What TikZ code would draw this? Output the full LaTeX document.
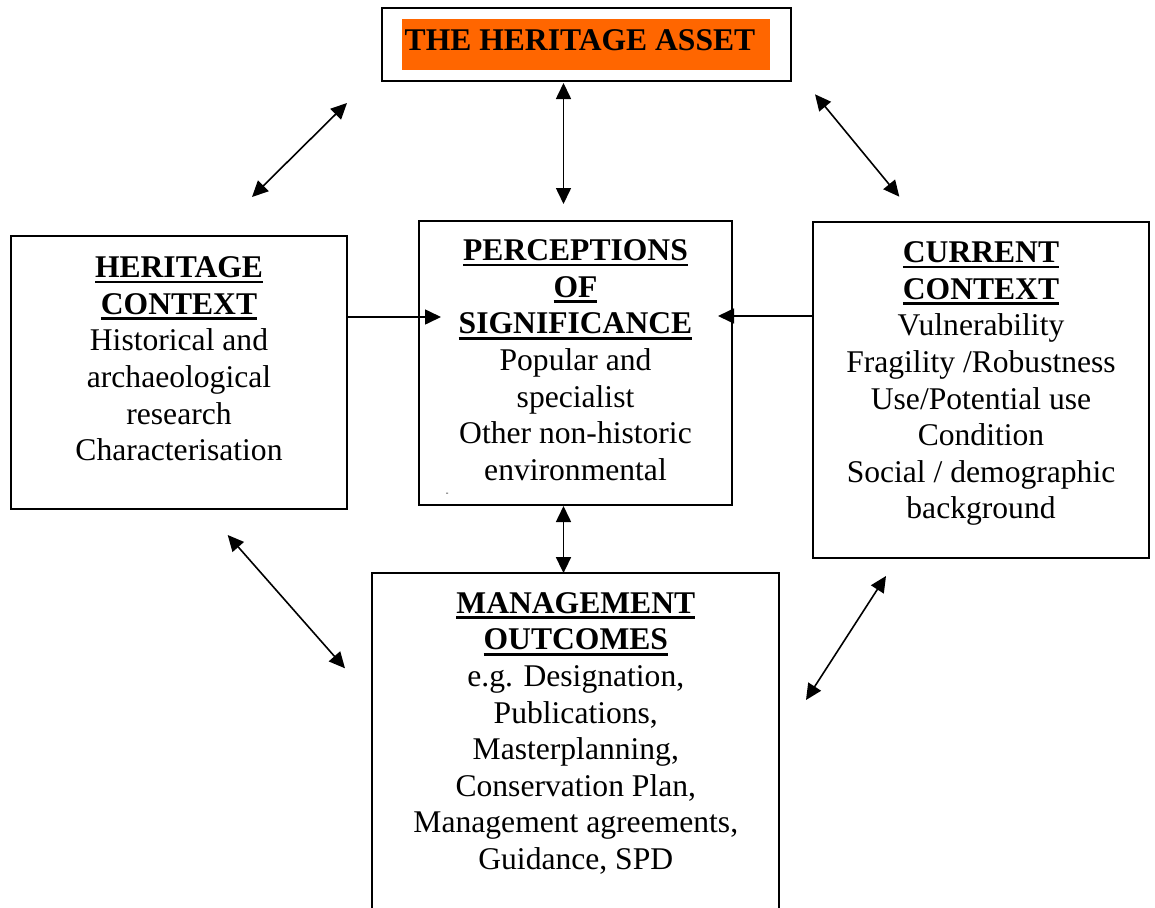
\documentclass[tikz,border=0pt]{standalone}
\usepackage{fontspec}
\setmainfont{Liberation Serif}
\usetikzlibrary{arrows.meta}
\definecolor{assetorange}{HTML}{FF6600}
\newcommand{\myul}[1]{\setbox0\hbox{#1}\rlap{\rule[-5.6pt]{\wd0}{2.6pt}}\box0}
\tikzset{
 box/.style={draw, line width=2pt, inner sep=0pt},
 txt/.style={align=center, inner sep=0pt, anchor=base, font=\fontsize{31.6}{36.6}\selectfont},
 darr/.style={line width=1.6pt, {Triangle[length=16pt,width=15pt]}-{Triangle[length=16pt,width=15pt]}},
 arr/.style={line width=1.6pt, -{Triangle[length=16pt,width=15pt]}},
}
\begin{document}
\begin{tikzpicture}[x=1pt,y=-1pt]
\useasboundingbox (0,0) rectangle (1155,907);
% top box
\node[box, minimum width=409pt, minimum height=72.4pt] (ha) at (586.2,44.5) {};
\node[fill=assetorange, inner sep=0pt, minimum width=368.3pt, minimum height=51pt] (hab) at (585.9,44.5) {};
\node[txt, font=\fontsize{31.6}{36.6}\selectfont\bfseries] (hat) at (580,50) {THE HERITAGE ASSET};
% heritage context
\node[box, minimum width=336pt, minimum height=273pt] (hc) at (179,372.5) {};
\node[txt] (hct) at (179,460.7) {\myul{\textbf{HERITAGE}}\\\myul{\textbf{CONTEXT}}\\Historical and\\archaeological\\research\\Characterisation};
% perceptions
\node[box, minimum width=312.5pt, minimum height=284.5pt] (ps) at (575.25,362.75) {};
\node[txt] (pst) at (575.5,480.3) {\myul{\textbf{PERCEPTIONS}}\\\myul{\textbf{OF}}\\\myul{\textbf{SIGNIFICANCE}}\\Popular and\\specialist\\Other non-historic\\environmental};
\node[inner sep=0pt, font=\fontsize{8}{8}\selectfont] (psdot) at (447.3,494.5) {-};
% current context
\node[box, minimum width=336pt, minimum height=336pt] (cc) at (981.3,390.3) {};
\node[txt] (cct) at (981,518.9) {\myul{\textbf{CURRENT}}\\\myul{\textbf{CONTEXT}}\\Vulnerability\\Fragility /Robustness\\Use/Potential use\\Condition\\Social / demographic\\background};
% management outcomes (open at bottom)
\node[inner sep=0pt, minimum width=407pt, minimum height=334pt] (mo) at (575.5,740.3) {};
\draw[line width=2pt] (mo.south west) -- (mo.north west) -- (mo.north east) -- (mo.south east);
\node[txt] (mot) at (575.8,869.5) {\myul{\textbf{MANAGEMENT}}\\\myul{\textbf{OUTCOMES}}\\e.g. Designation,\\Publications,\\Masterplanning,\\Conservation Plan,\\Management agreements,\\Guidance, SPD};
% arrow end points
\coordinate (a1) at (563.5,83);
\coordinate (a2) at (563.5,204);
\coordinate (b1) at (347,103);
\coordinate (b2) at (252,197);
\coordinate (c1) at (815,94.3);
\coordinate (c2) at (899.3,196.7);
\coordinate (hp) at (441,317);
\coordinate (cp) at (718,316);
\coordinate (d1) at (227.7,535);
\coordinate (d2) at (345,668.3);
\coordinate (e1) at (886,576);
\coordinate (e2) at (806,700);
% connectors
\draw[darr] (a1) -- (a2);
\draw[darr] (b1) -- (b2);
\draw[darr] (c1) -- (c2);
\draw[arr] (hc.east |- hp) -- (hp);
\draw[arr] (cc.west |- cp) -- (cp);
\draw[darr] (ps.south -| a1) -- (mo.north -| a1);
\draw[darr] (d1) -- (d2);
\draw[darr] (e1) -- (e2);
\end{tikzpicture}
\end{document}
